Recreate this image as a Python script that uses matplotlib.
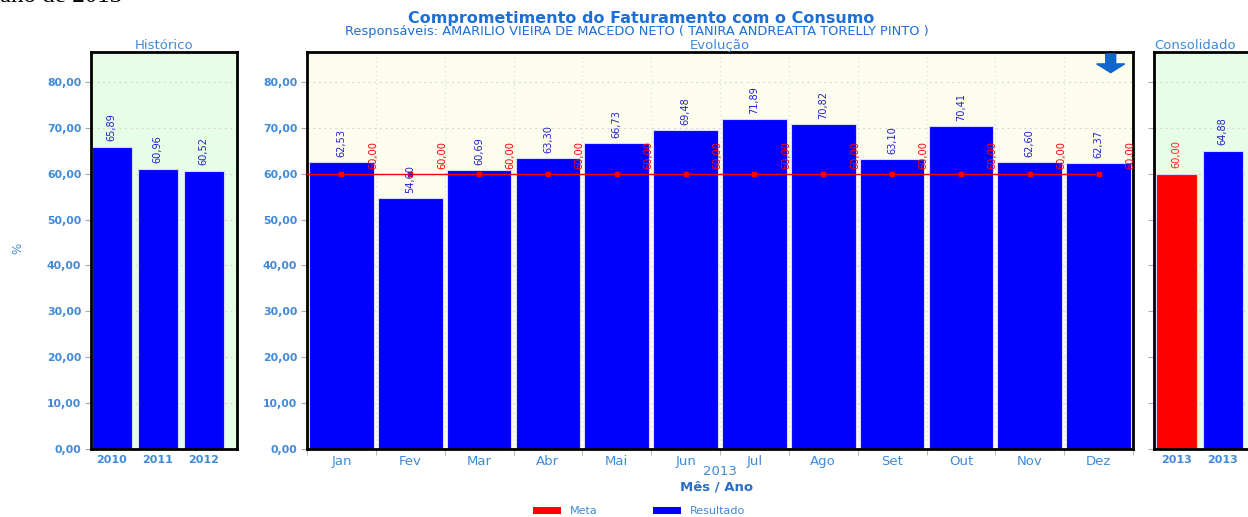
import matplotlib
matplotlib.use("Agg")
import matplotlib.pyplot as plt
import numpy as np
from matplotlib.patches import FancyArrow, Patch

# ---------------- data ----------------
hist_years = ["2010", "2011", "2012"]
hist_values = [65.89, 60.96, 60.52]

months = ["Jan", "Fev", "Mar", "Abr", "Mai", "Jun", "Jul", "Ago", "Set", "Out", "Nov", "Dez"]
resultado = [62.53, 54.60, 60.69, 63.30, 66.73, 69.48, 71.89, 70.82, 63.10, 70.41, 62.60, 62.37]
meta = [60.00] * 12

cons_labels = ["2013", "2013"]
cons_values = [60.00, 64.88]
cons_colors = ["#ff0000", "#0000ff"]

yticks = [0, 10, 20, 30, 40, 50, 60, 70, 80]

title = "Comprometimento do Faturamento com o Consumo"
subtitle = "Responsáveis: AMARILIO VIEIRA DE MACEDO NETO ( TANIRA ANDREATTA TORELLY PINTO )"

# ---------------- style ----------------
W, H = 1248, 517
BLUE_TXT = "#3f8ad8"
TITLE_C = "#1c6fd6"
BAR_BLUE = "#0000ff"
BAR_RED = "#ff0000"
EDGE = "#d8d8ff"
YMAX = 86.5
LBL = dict(fontsize=7.8, family="DejaVu Sans", fontstretch="condensed")


def fmt(v):
    return f"{v:.2f}".replace(".", ",")


def px_axes(left, top, right, bottom):
    return [left / W, 1 - bottom / H, (right - left) / W, (bottom - top) / H]


fig = plt.figure(figsize=(W / 100, H / 100), dpi=100)
fig.patch.set_facecolor("white")


def style_axes(ax, face, show_ylabels=True):
    ax.set_facecolor(face)
    ax.set_ylim(0, YMAX)
    ax.set_yticks(yticks)
    if show_ylabels:
        ax.set_yticklabels([fmt(t) for t in yticks], fontsize=7.8, fontweight="bold", color=BLUE_TXT)
    else:
        ax.set_yticklabels([])
    ax.tick_params(axis="y", direction="out", length=4, color="#aaaaaa", pad=3)
    for s in ax.spines.values():
        s.set_linewidth(2)
        s.set_color("black")
    ax.yaxis.grid(True, color="#d9d9d9", linestyle=(0, (2, 3)), linewidth=0.8)
    ax.set_axisbelow(True)


# ---------- Histórico ----------
axh = fig.add_axes(px_axes(91, 52, 237, 449))
style_axes(axh, "#e6fde6")
xh = np.arange(len(hist_values))
axh.bar(xh, hist_values, width=0.87, color=BAR_BLUE, edgecolor=EDGE, linewidth=0.8)
axh.set_xlim(-0.45, 2.72)
axh.set_xticks(xh)
axh.set_xticklabels(hist_years, fontsize=8, fontweight="bold", color=BLUE_TXT)
axh.tick_params(axis="x", length=0, pad=4)
for x, v in zip(xh, hist_values):
    axh.text(x, v + 1.3, fmt(v), rotation=90, ha="center", va="bottom",
             color="#2222cc", **LBL)
axh.set_title("Histórico", fontsize=9.5, color=BLUE_TXT, pad=1)

# ---------- Evolução ----------
axe = fig.add_axes(px_axes(307, 52, 1133, 449))
style_axes(axe, "#fdfdee")
xm = np.arange(len(months))
axe.bar(xm, resultado, width=0.94, color=BAR_BLUE, edgecolor=EDGE, linewidth=0.8, zorder=2)
axe.set_xlim(-0.5, len(months) - 0.5)
axe.set_xticks(xm)
axe.set_xticklabels(months, fontsize=9.5, color=BLUE_TXT)
axe.set_xticks(np.arange(len(months) + 1) - 0.5, minor=True)
axe.tick_params(axis="x", which="major", length=0, pad=4)
axe.tick_params(axis="x", which="minor", length=4, color="#aaaaaa")
axe.xaxis.grid(True, which="minor", color="#d9d9d9", linestyle=(0, (1, 3)), linewidth=0.8)
# meta line (extends to the left edge as in the original)
axe.plot([-0.5, xm[0]], [meta[0], meta[0]], color=BAR_RED, linewidth=1, zorder=3)
axe.plot(xm, meta, color=BAR_RED, linewidth=1, marker="s", markersize=3, zorder=3)
for x, v in zip(xm, resultado):
    axe.text(x, v + 1.1, fmt(v), rotation=90, ha="center", va="bottom",
             color="#2222cc", zorder=4, **LBL)
for x, v in zip(xm, meta):
    axe.text(x + 0.46, v + 1.1, fmt(v), rotation=90, ha="center", va="bottom",
             color=BAR_RED, zorder=4, **LBL)
axe.set_title("Evolução", fontsize=9.5, color=BLUE_TXT, pad=1)
axe.set_xlabel("2013", fontsize=9.5, color=BLUE_TXT, labelpad=-2)
fig.text(717 / W, 1 - 487 / H, "Mês / Ano", fontsize=9.5, fontweight="bold",
         color="#2a6fc4", ha="center", va="center")
# download arrow icon
axe.add_patch(FancyArrow(0.973, 0.995, 0, -0.025, width=10 / 826, head_width=28 / 826,
                         head_length=0.022, length_includes_head=False,
                         color="#1166cc", transform=axe.transAxes, zorder=5))

# ---------- Consolidado ----------
axc = fig.add_axes(px_axes(1154, 52, 1300, 449))
style_axes(axc, "#e6fde6", show_ylabels=False)
xc = np.arange(len(cons_values))
axc.bar(xc, cons_values, width=0.87, color=cons_colors, edgecolor=EDGE, linewidth=0.8)
axc.set_xlim(-0.48, 2.66)
axc.set_xticks(xc)
axc.set_xticklabels(cons_labels, fontsize=8, fontweight="bold", color=BLUE_TXT)
axc.tick_params(axis="x", length=0, pad=4)
for x, v, c in zip(xc, cons_values, ["#ff2222", "#2222cc"]):
    axc.text(x, v + 1.3, fmt(v), rotation=90, ha="center", va="bottom",
             color=c, **LBL)
axc.set_title("Consolidado", fontsize=9.5, color=BLUE_TXT, pad=1, loc="left")

# ---------- figure texts ----------
fig.text(0.0, 1 - 2 / H, "ano de 2013", fontsize=18, family="Liberation Serif",
         color="black", ha="left", va="baseline")
fig.text(641 / W, 1 - 18 / H, title, fontsize=11.5, fontweight="bold", color=TITLE_C,
         ha="center", va="center")
fig.text(637 / W, 1 - 31.5 / H, subtitle, fontsize=9.4, color=TITLE_C, ha="center", va="center")
fig.text(18 / W, 1 - 248 / H, "%", fontsize=8.5, color=BLUE_TXT, rotation=90,
         ha="center", va="center")

handles = [Patch(facecolor=BAR_RED, edgecolor="none", label="Meta"),
           Patch(facecolor=BAR_BLUE, edgecolor="none", label="Resultado")]
fig.legend(handles=handles, loc="center", bbox_to_anchor=(0.512, 6 / H), ncol=2,
           frameon=False, fontsize=8, handlelength=2.5, handleheight=0.6,
           columnspacing=5.0, handletextpad=0.8, labelcolor=BLUE_TXT)

fig.savefig("out.png", dpi=100)
